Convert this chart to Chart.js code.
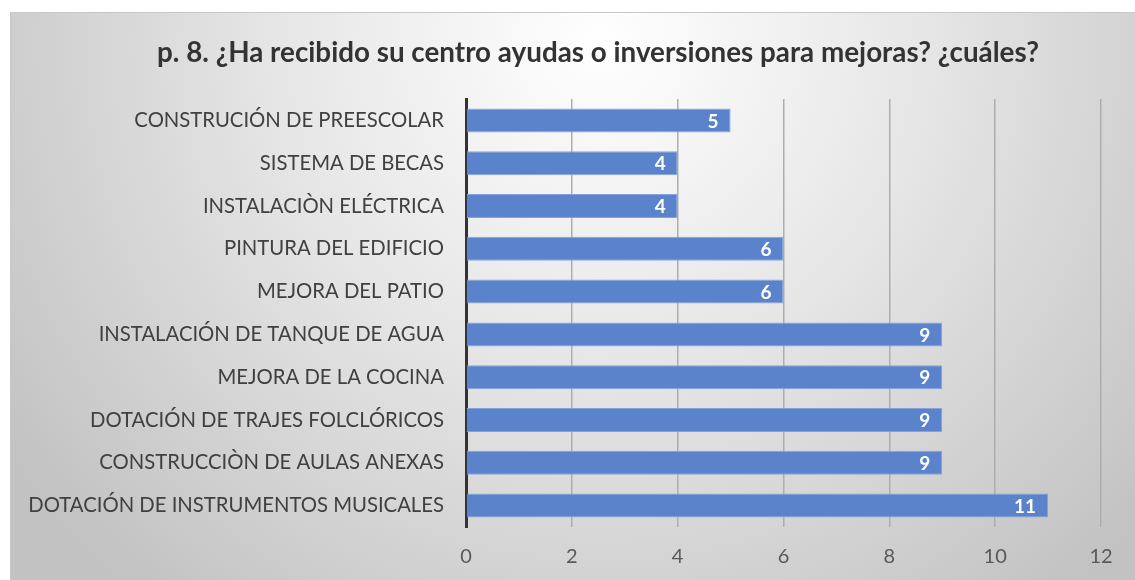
<!DOCTYPE html>
<html>
<head>
<meta charset="utf-8">
<script src="https://cdn.jsdelivr.net/npm/chart.js@4/dist/chart.umd.min.js"></script>
<style>
    html, body { margin: 0; padding: 0; background: #fff; }
    .chart {
        position: absolute;
        left: 10px;
        top: 12px;
        width: 1125px;
        height: 568px;
        border-top: 1px solid #c8c8c8;
        border-left: 1px solid #c8c8c8;
        box-sizing: border-box;
    }
</style>
</head>
<body>
<div class="chart"><canvas id="mejoras"></canvas></div>
<script>
const categories = [
    'CONSTRUCIÓN DE PREESCOLAR',
    'SISTEMA DE BECAS',
    'INSTALACIÒN ELÉCTRICA',
    'PINTURA DEL EDIFICIO',
    'MEJORA DEL PATIO',
    'INSTALACIÓN DE TANQUE DE AGUA',
    'MEJORA DE LA COCINA',
    'DOTACIÓN DE TRAJES FOLCLÓRICOS',
    'CONSTRUCCIÒN DE AULAS ANEXAS',
    'DOTACIÓN DE INSTRUMENTOS MUSICALES',
];
const counts = [5, 4, 4, 6, 6, 9, 9, 9, 9, 11];
const xTicks = [0, 2, 4, 6, 8, 10, 12];
const chartTitle = 'p. 8. ¿Ha recibido su centro ayudas o inversiones para mejoras? ¿cuáles?';

const fontFamily = 'Lato, "Open Sans", sans-serif';

const ctx = document.querySelector('#mejoras').getContext('2d');

// fondo con degradado radial, como el de Excel
const background = {
    id: 'background',
    beforeDraw(chart) {
        const { ctx, width, height } = chart;
        const g = ctx.createRadialGradient(590, 30, 0, 590, 30, 720);
        g.addColorStop(0, '#ffffff');
        g.addColorStop(0.45, '#e6e6e6');
        g.addColorStop(1, '#c2c2c2');
        ctx.save();
        ctx.fillStyle = g;
        ctx.fillRect(0, 0, width, height);
        ctx.restore();
    },
};

// título centrado sobre todo el gráfico (el de Chart.js queda desplazado)
const titleText = {
    id: 'titleText',
    afterDraw(chart) {
        const ctx = chart.ctx;
        ctx.save();
        ctx.font = 'bold 27.8px ' + fontFamily;
        ctx.fillStyle = '#333333';
        ctx.textAlign = 'center';
        ctx.textBaseline = 'middle';
        ctx.fillText(chartTitle, 587, 40);
        ctx.restore();
    },
};

// etiquetas de valor dentro del extremo de cada barra
const valueLabels = {
    id: 'valueLabels',
    afterDatasetsDraw(chart) {
        const ctx = chart.ctx;
        const meta = chart.getDatasetMeta(0);
        ctx.save();
        ctx.font = 'bold 19px ' + fontFamily;
        ctx.fillStyle = '#ffffff';
        ctx.textAlign = 'right';
        ctx.textBaseline = 'middle';
        meta.data.forEach((bar, i) => {
            ctx.fillText(counts[i], bar.x - 12, bar.y + 1);
        });
        ctx.restore();
    },
};

new Chart(ctx, {
    type: 'bar',
    data: {
        labels: categories,
        datasets: [
            {
                data: counts,
                backgroundColor: '#5a83cb',
                borderColor: '#86a3db',
                borderWidth: 1,
                borderSkipped: 'start',
                barPercentage: 0.56,
                categoryPercentage: 1,
            },
        ],
    },
    options: {
        indexAxis: 'y',
        responsive: true,
        maintainAspectRatio: false,
        animation: false,
        layout: { padding: { left: 0, right: 34, top: 86, bottom: 0 } },
        plugins: {
            legend: { display: false },
            tooltip: { enabled: false },
            title: { display: false },
        },
        scales: {
            x: {
                min: 0,
                max: 12,
                afterBuildTicks(scale) {
                    scale.ticks = xTicks.map((v) => ({ value: v }));
                },
                afterFit(scale) {
                    scale.height = 53;
                },
                border: { display: false },
                grid: {
                    color: (c) => (c.tick && c.tick.value === 0 ? 'rgba(0,0,0,0)' : '#adadad'),
                    lineWidth: 1.5,
                    drawTicks: false,
                },
                ticks: {
                    color: '#595959',
                    padding: 18,
                    font: { family: fontFamily, size: 20 },
                },
            },
            y: {
                afterFit(scale) {
                    scale.width = 455;
                },
                border: { color: '#333333', width: 3 },
                grid: { display: false, drawTicks: false },
                ticks: {
                    color: '#404040',
                    padding: 22,
                    font: { family: fontFamily, size: 20.3 },
                },
            },
        },
    },
    plugins: [background, valueLabels, titleText],
});
</script>
</body>
</html>
